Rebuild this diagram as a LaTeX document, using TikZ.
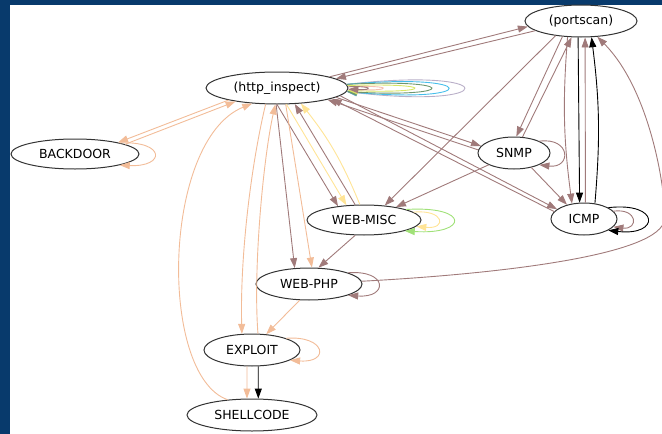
\documentclass[tikz,border=0pt]{standalone}
\usepackage{fontspec}
\newfontfamily\gvfont{DejaVu Sans}
\usepackage{tikz}
\usetikzlibrary{arrows.meta}
\usetikzlibrary{shapes.geometric}

\definecolor{frameblue}{RGB}{8,58,108}
\definecolor{mauve}{RGB}{160,122,122}
\definecolor{peach}{RGB}{242,188,152}
\definecolor{paleyel}{RGB}{255,228,150}
\definecolor{lgreen}{RGB}{160,225,120}
\definecolor{skyb}{RGB}{70,190,235}
\definecolor{dgreen}{RGB}{110,150,110}
\definecolor{ygreen}{RGB}{215,230,100}
\definecolor{pinky}{RGB}{245,190,175}
\definecolor{lavend}{RGB}{185,175,200}

\begin{document}
\begin{tikzpicture}[x=1pt,y=-1pt]
	\tikzstyle{every node}=[draw=black!80,ellipse,line width=1pt,fill=white,inner sep=0pt,minimum height=32pt,font=\gvfont\fontsize{12.5}{15}\selectfont]
	\tikzstyle{arr}=[-{Triangle[length=10pt,width=7pt]},line width=0.9pt]

	\fill[frameblue] (0,0) rectangle (662,5);
	\fill[frameblue] (0,0) rectangle (10,434);
	\useasboundingbox (0,0) rectangle (662,434);

	\node (port) [minimum width=112pt] at (581,21) {(portscan)};
	\node (http) [minimum width=142pt] at (277,88) {(http\_inspect)};
	\node (bd) [minimum width=128pt,minimum height=30pt] at (75,154) {BACKDOOR};
	\node (snmp) [minimum width=72pt] at (514,153) {SNMP};
	\node (wm) [minimum width=114pt,minimum height=30pt] at (364,220) {WEB-MISC};
	\node (icmp) [minimum width=66pt] at (584,219) {ICMP};
	\node (wp) [minimum width=106pt] at (309,284) {WEB-PHP};
	\node (ex) [minimum width=96pt] at (252,350) {EXPLOIT};
	\node (sc) [minimum width=130pt] at (252,415) {SHELLCODE};
	\coordinate (turn) at (664,222);

	% loops on http_inspect
	\path[arr]
	(http.3) edge[lavend,controls={+(156,-18) and +(156,18)}] (http.-3)
	(http.3) edge[skyb,controls={+(135,-12) and +(135,12)}] (http.-3)
	(http.3) edge[dgreen,controls={+(112,-6) and +(112,6)}] (http.-3)
	(http.2) edge[ygreen,controls={+(88,-3) and +(88,3)}] (http.-2)
	(http.1) edge[pinky,controls={+(45,-2) and +(45,2)}] (http.-1)
	(http.1) edge[mauve,controls={+(25,-1) and +(25,1)}] (http.-1);

	\path[arr,mauve]
	(http.12) edge (port.-174)
	(port.-168) edge (http.9)
	(http.-9) edge (snmp.168)
	(snmp.175) edge (http.-13)
	(http.-7) edge (icmp.160)
	(icmp.166) edge (http.-11)
	(http.-90) edge (wm.152)
	(wm.120) edge (http.-42)
	(http.-93) edge (wp.132)
	(wm.-120) edge (wp.60)
	(port.-150) edge (wm.35)
	(snmp.-155) edge (wm.22)
	(port.-140) edge (snmp.82)
	(snmp.62) edge (port.-120)
	(snmp.-40) edge (icmp.140)
	(port.-130) edge[bend right=6] (icmp.128)
	(icmp.85) edge (port.-76)
	(snmp.25) edge[controls={+(32,-4) and +(32,4)}] (snmp.-25)
	(icmp.15) edge[controls={+(25,-3) and +(25,3)}] (icmp.-15)
	(wp.16) edge[controls={+(40,-3) and +(40,3)}] (wp.-16);

	\draw[arr,mauve] (wp.3) .. controls (480,275) and (652,258) .. (turn)
	.. controls (668,210) and (655,95) .. (port.-44);

	\path[arr,black]
	(port.-100) edge (icmp.105)
	(icmp.55) edge[bend right=6] (port.-57)
	(ex.-69) edge (sc.69)
	(icmp.25) edge[controls={+(52,-6) and +(52,6)}] (icmp.-25);

	\path[arr,peach]
	(http.-166) edge (bd.15)
	(bd.11) edge (http.-162)
	(bd.14) edge[controls={+(46,-2) and +(46,2)}] (bd.-14)
	(http.-125) edge[controls={(250,170) and (240,260)}] (ex.122)
	(ex.70) edge[controls={(253,270) and (263,160)}] (http.-96)
	(http.-62) edge (wp.80)
	(wp.-120) edge (ex.48)
	(ex.19) edge[controls={+(40,-3) and +(40,3)}] (ex.-15)
	(ex.-107) edge (sc.107)
	(sc.148) edge[controls={(158,375) and (162,140)}] (http.-148);

	\path[arr,paleyel]
	(http.-60) edge (wm.140)
	(wm.105) edge[bend right=8] (http.-33)
	(wm.9) edge[controls={+(31,-3) and +(31,3)}] (wm.-7);

	\path[arr,lgreen]
	(wm.14) edge[controls={+(64,-4) and +(64,4)}] (wm.-15);
\end{tikzpicture}
\end{document}
